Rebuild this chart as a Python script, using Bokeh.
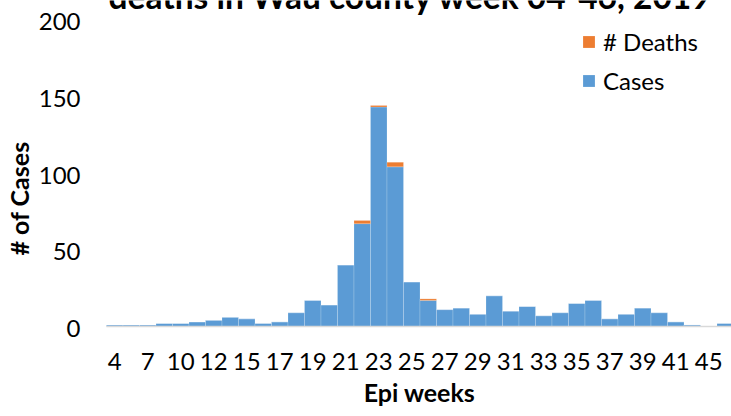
from bokeh.plotting import figure
from bokeh.models import (ColumnDataSource, Range1d, Legend, LegendItem, Label)
from bokeh.core.properties import value
from bokeh.embed import file_html
from bokeh.resources import INLINE
import math

weeks = [4, 5, 7, 8, 10, 11, 12, 13, 15, 16, 17, 18, 19, 20, 21, 22, 23, 24, 25, 26,
         27, 28, 29, 30, 31, 32, 33, 34, 35, 36, 37, 38, 39, 40, 41, 43, 45, 46]
cases = [1, 1, 1, 2, 2, 3, 4, 6, 5, 2, 3, 9, 17, 14, 40, 67, 143, 104, 29, 17,
         11, 12, 8, 20, 10, 13, 7, 9, 15, 17, 5, 8, 12, 9, 3, 1, 0, 2]
deaths = [0, 0, 0, 0, 0, 0, 0, 0, 0, 0, 0, 0, 0, 0, 0, 2, 1, 3, 0, 1,
          0, 0, 0, 0, 0, 0, 0, 0, 0, 0, 0, 0, 0, 0, 0, 0, 0, 0]
y_ticks = [0, 50, 100, 150, 200]
title_text = "deaths in Wau county week 04-46, 2019"
x_title = "Epi weeks"
y_title = "# of Cases"

BLUE = "#5B9BD5"
ORANGE = "#ED7D31"
FONT = "Lato"

W, H = 731, 416
# layout of the plotting area in pixels (Excel-like placement)
PLOT_LEFT, BASE_Y, TOP_200 = 106, 326, 19
BAR_PX = 16.5
px_per_unit = (BASE_Y - TOP_200) / y_ticks[-1]
x0 = -0.5 - PLOT_LEFT / BAR_PX
x1 = x0 + W / BAR_PX
y1 = BASE_Y / px_per_unit
y0 = -(H - BASE_Y) / px_per_unit

idx = list(range(len(weeks)))
src = ColumnDataSource(dict(x=idx, cases=cases, deaths=deaths))

p = figure(width=W, height=H, output_backend="svg", toolbar_location=None,
           x_range=Range1d(x0, x1), y_range=Range1d(y0, y1),
           x_axis_location=None, y_axis_location=None,
           min_border=0, min_border_left=0, min_border_right=0,
           min_border_top=0, min_border_bottom=0)
p.outline_line_color = None
p.grid.visible = False

rs = p.vbar_stack(["cases", "deaths"], x="x", width=1.0, color=[BLUE, ORANGE],
                  line_color="white", line_width=0.6, line_alpha=0.3, source=src)

# category axis baseline
p.segment(x0=[idx[0] - 0.5], y0=[0], x1=[idx[-1] + 0.5], y1=[0],
          line_color="#D9D9D9", line_width=1.5)

# y tick labels
p.text(x=[x0] * len(y_ticks), y=y_ticks, text=[str(t) for t in y_ticks],
       x_offset=80, y_offset=2, text_align="right", text_baseline="middle",
       text_font=value(FONT), text_font_size="24px", text_color="black")

# x tick labels (every other category, as in the source)
shown = idx[::2]
p.text(x=shown, y=[0] * len(shown), text=[str(weeks[i]) for i in shown],
       y_offset=35, text_align="center", text_baseline="middle",
       text_font=value(FONT), text_font_size="24px", text_color="black")

# legend (reversed order like the source)
legend = Legend(items=[LegendItem(label="# Deaths", renderers=[rs[1]]),
                       LegendItem(label="Cases", renderers=[rs[0]])],
                location=(581, 321), glyph_width=15, glyph_height=15,
                label_standoff=7, spacing=10, padding=0, margin=0,
                border_line_color=None, background_fill_alpha=0,
                label_text_font=FONT, label_text_font_size="24px",
                label_text_color="black")
p.add_layout(legend, "center")

# axis titles and the chart title (clipped at the top like the source)
p.add_layout(Label(x=18, y=H - 198, x_units="screen", y_units="screen",
                   text=y_title, angle=math.pi / 2, text_align="center",
                   text_baseline="middle", text_font=FONT, text_font_style="bold",
                   text_font_size="25px", text_color="black"))
p.add_layout(Label(x=419, y=H - 391, x_units="screen", y_units="screen",
                   text=x_title, text_align="center", text_baseline="middle",
                   text_font=FONT, text_font_style="bold", text_font_size="25px",
                   text_color="black"))
p.add_layout(Label(x=410, y=H + 4.5, x_units="screen", y_units="screen",
                   text=title_text, text_align="center", text_baseline="alphabetic",
                   text_font=FONT, text_font_style="bold", text_font_size="33.5px",
                   text_color="black"))

open("out.html", "w").write(file_html(p, INLINE))
